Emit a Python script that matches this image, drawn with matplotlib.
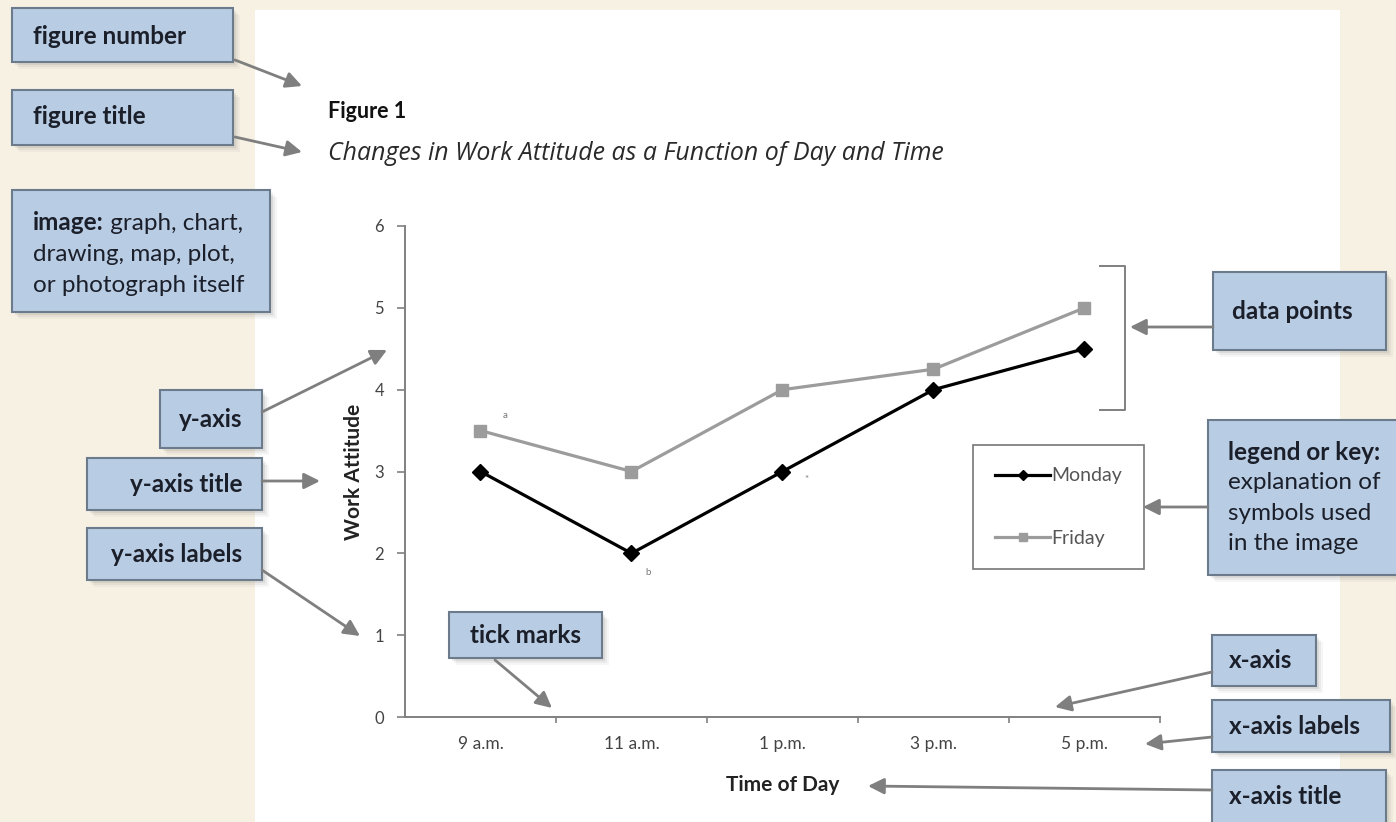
import matplotlib
matplotlib.use("Agg")
import matplotlib.pyplot as plt
from matplotlib.patches import Rectangle

plt.rcParams['font.family'] = ['Lato', 'DejaVu Sans']

# data
times = ['9 a.m.', '11 a.m.', '1 p.m.', '3 p.m.', '5 p.m.']
monday = [3, 2, 3, 4, 4.5]
friday = [3.5, 3, 4, 4.25, 5]
notes = ['a', 'b', '*']
note_pos = [(0.16, 3.68), (1.11, 1.77), (2.16, 2.9)]

W, H = 1396, 822
def fx(x): return x / W
def fy(y): return 1 - y / H

fig = plt.figure(figsize=(W / 100, H / 100), dpi=100)
fig.patch.set_facecolor('#F7F1E4')

def fit(t, width):
    # scale a text so that it spans the given pixel width
    w = t.get_window_extent(fig.canvas.get_renderer()).width
    t.set_fontsize(t.get_fontsize() * width / w)

ov = fig.add_axes([0, 0, 1, 1], zorder=0)
ov.set_xlim(0, W)
ov.set_ylim(H, 0)
ov.axis('off')

# white page
ov.add_patch(Rectangle((255, 10), 1085, 812, facecolor='white', edgecolor='none'))

# the chart
ax = fig.add_axes([fx(405), fy(717), 755 / W, (717 - 226) / H], zorder=1)
ax.set_facecolor('none')
x = list(range(len(times)))
ax.plot(x, monday, color='black', lw=2.3, marker='D', ms=8, label='Monday', zorder=3)
ax.plot(x, friday, color='#9c9c9c', lw=2.3, marker='s', ms=9, label='Friday', zorder=2)
for n, (px, py) in zip(notes, note_pos):
    ax.text(px, py, n, fontsize=7, color='#777777', ha='center', va='center')
ax.set_xlim(-0.5, 4.5)
ax.set_ylim(0, 6)
ax.set_xticks(x)
ax.set_xticklabels(times)
ax.set_xticks([i + 0.5 for i in x], minor=True)
ax.tick_params(axis='x', which='major', length=0, pad=14, labelsize=12.5, labelcolor='#444444')
ax.tick_params(axis='x', which='minor', length=4, width=1.2, direction='out', color='#808080')
ax.set_yticks(range(7))
ax.tick_params(axis='y', length=6, width=1.2, color='#808080', labelsize=12, labelcolor='#444444', pad=9)
for s in ['top', 'right']:
    ax.spines[s].set_visible(False)
for s in ['left', 'bottom']:
    ax.spines[s].set_color('#808080')
    ax.spines[s].set_linewidth(1.4)
ax.set_ylabel('Work Attitude', fontsize=15, fontweight='bold', color='#222222')
ax.yaxis.set_label_coords(-0.054, 0.5)
ax.set_xlabel('Time of Day', fontsize=15, fontweight='bold', color='#222222', va='top')
ax.xaxis.set_label_coords(0.5, -0.118)

leg = ax.legend(loc='upper left', bbox_to_anchor=(fx(973), fy(445)), bbox_transform=fig.transFigure,
                frameon=True, fancybox=False, edgecolor='#555555', borderpad=1.15, labelspacing=2.35,
                handlelength=2.8, handletextpad=0.05, fontsize=14, markerscale=0.6, borderaxespad=0)
leg.get_frame().set_linewidth(1.2)
for t in leg.get_texts():
    t.set_color('#555555')

# bracket around data points
ov.plot([1100, 1125, 1125, 1100], [266, 266, 410, 410], color='#808080', lw=1.4)

# figure number and title
ov.text(328, 112, 'Figure 1', fontsize=15.5, fontweight='bold', color='#111111', va='center')
t2 = ov.text(328, 154, 'Changes in Work Attitude as a Function of Day and Time', fontsize=16,
             style='italic', color='#2a2a2a', va='center', family=['Open Sans', 'Lato', 'DejaVu Sans'])
fit(t2, 617)

# label boxes: (x0, y0, x1, y1)
boxes = [(12, 8, 233, 62), (12, 90, 233, 145), (12, 190, 270, 312), (160, 390, 262, 448),
         (87, 458, 262, 510), (87, 528, 262, 580), (449, 612, 602, 658), (1213, 272, 1386, 350),
         (1208, 420, 1400, 575), (1212, 635, 1316, 686), (1212, 700, 1390, 752), (1212, 770, 1386, 826)]
fill, edge, ink = '#B8CCE4', '#6B7B8C', '#1b1f2a'
for x0, y0, x1, y1 in boxes:
    for k, a in enumerate([0.10, 0.07, 0.05]):
        d = 3 + 2 * k
        ov.add_patch(Rectangle((x0 + d, y0 + d), x1 - x0, y1 - y0, facecolor='#555555',
                               edgecolor='none', alpha=a))
    ov.add_patch(Rectangle((x0, y0), x1 - x0, y1 - y0, facecolor=fill, edgecolor=edge, lw=1.5))

fs = 17.5
ov.text(33, 36, 'figure number', fontsize=fs, fontweight='bold', color=ink, va='center')
ov.text(33, 117, 'figure title', fontsize=fs, fontweight='bold', color=ink, va='center')
t = ov.text(33, 234, 'image:', fontsize=fs, fontweight='bold', color=ink, va='bottom')
ov.annotate(' graph, chart,', xy=(1, 0), xycoords=t, fontsize=fs, color=ink, va='bottom', ha='left')
for i, line in enumerate(['drawing, map, plot,', 'or photograph itself']):
    ov.text(33, 234 + 31 * (i + 1), line, fontsize=fs, color=ink, va='bottom')
ov.text(242, 419, 'y-axis', fontsize=fs, fontweight='bold', color=ink, va='center', ha='right')
ov.text(242, 484, 'y-axis title', fontsize=fs, fontweight='bold', color=ink, va='center', ha='right')
ov.text(242, 554, 'y-axis labels', fontsize=fs, fontweight='bold', color=ink, va='center', ha='right')
ov.text(525, 635, 'tick marks', fontsize=fs, fontweight='bold', color=ink, va='center', ha='center')
ov.text(1232, 311, 'data points', fontsize=fs, fontweight='bold', color=ink, va='center')
ov.text(1228, 452, 'legend or key:', fontsize=fs, fontweight='bold', color=ink, va='center')
for i, line in enumerate(['explanation of', 'symbols used', 'in the image']):
    ov.text(1228, 452 + 30.5 * (i + 1), line, fontsize=fs, color=ink, va='center')
ov.text(1229, 660, 'x-axis', fontsize=fs, fontweight='bold', color=ink, va='center')
ov.text(1229, 726, 'x-axis labels', fontsize=fs, fontweight='bold', color=ink, va='center')
ov.text(1229, 796, 'x-axis title', fontsize=fs, fontweight='bold', color=ink, va='center')

# arrows: (start, end)
arrows = [((235, 60), (302, 86)), ((235, 137), (302, 152)), ((262, 412), (387, 350)),
          ((262, 481), (320, 481)), ((262, 570), (360, 636)), ((495, 660), (552, 708)),
          ((1213, 327), (1130, 327)), ((1208, 507), (1143, 507)), ((1212, 672), (1055, 707)),
          ((1212, 737), (1145, 744)), ((1212, 790), (868, 786))]
for (sx, sy), (ex, ey) in arrows:
    ov.annotate('', xy=(ex, ey), xytext=(sx, sy),
                arrowprops=dict(arrowstyle='-|>', color='#7f7f7f', lw=2, mutation_scale=24,
                                shrinkA=0, shrinkB=0))

fig.savefig('out.png', dpi=100, facecolor=fig.get_facecolor())
